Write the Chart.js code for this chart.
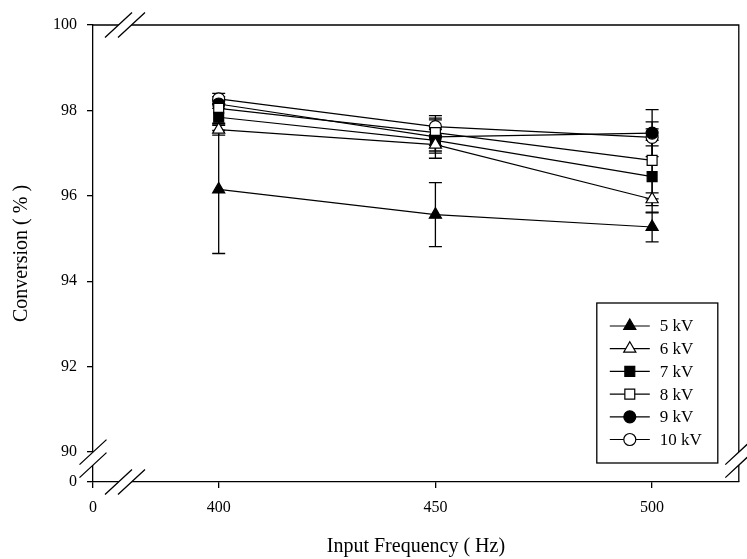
<!DOCTYPE html>
<html>
<head>
<meta charset="utf-8">
<script src="https://cdn.jsdelivr.net/npm/chart.js@4.4.1/dist/chart.umd.min.js"></script>
<style>
  html, body { margin: 0; padding: 0; background: #fff; }
</style>
</head>
<body>
<canvas id="myChart" width="747" height="559"></canvas>
<script>
// data
const frequencies = [400, 450, 500];
const voltages = ['5 kV', '6 kV', '7 kV', '8 kV', '9 kV', '10 kV'];

const conv5kV  = [96.15, 95.56, 95.27];
const conv6kV  = [97.55, 97.20, 95.92];
const conv7kV  = [97.84, 97.30, 96.45];
const conv8kV  = [98.05, 97.48, 96.83];
const conv9kV  = [98.15, 97.38, 97.47];
const conv10kV = [98.27, 97.62, 97.37];

const err5kV  = [1.50, 0.75, 0.35];
const err6kV  = [0.13, 0.20, 0.15];
const err7kV  = [0.31, 0.25, 0.85];
const err8kV  = [0.35, 0.30, 0.90];
const err9kV  = [0.10, 0.50, 0.55];
const err10kV = [0.05, 0.20, 0.20];

const yTicks = [90, 92, 94, 96, 98, 100];
const xTicks = [400, 450, 500];

// broken axes: the lowest value of each scale is labelled "0"
const yMin = 89.3, yMax = 100;
const xMin = 371, xMax = 520;

const serif = "'Liberation Serif', 'Times New Roman', serif";

function series(label, values, errors, style, filled, radius) {
  return {
    label: label,
    data: frequencies.map((f, i) => ({ x: f, y: values[i] })),
    errors: errors,
    borderColor: '#000',
    borderWidth: 1.2,
    pointStyle: style,
    pointRadius: radius,
    pointHoverRadius: radius,
    pointBorderWidth: 1.2,
    pointBorderColor: '#000',
    pointBackgroundColor: filled ? '#000' : '#fff'
  };
}

const errorBars = {
  id: 'errorBars',
  beforeDatasetsDraw(chart) {
    const { ctx } = chart;
    const xs = chart.scales.x, ys = chart.scales.y;
    ctx.save();
    ctx.strokeStyle = '#000';
    ctx.lineWidth = 1.3;
    chart.data.datasets.forEach(ds => {
      ds.data.forEach((p, i) => {
        const e = ds.errors[i];
        const px = xs.getPixelForValue(p.x);
        const top = ys.getPixelForValue(p.y + e);
        const bot = ys.getPixelForValue(p.y - e);
        ctx.beginPath();
        ctx.moveTo(px, top); ctx.lineTo(px, bot);
        ctx.moveTo(px - 6.5, top); ctx.lineTo(px + 6.5, top);
        ctx.moveTo(px - 6.5, bot); ctx.lineTo(px + 6.5, bot);
        ctx.stroke();
      });
    });
    ctx.restore();
  }
};

// draws a "//" break across an axis, blanking the axis between the two strokes
function breakMark(ctx, cx, cy, along) {
  const hx = 13.5, hy = 12.5, gap = 6.5;
  const ox = along === 'h' ? gap : 0;
  const oy = along === 'v' ? gap : 0;
  const a = [cx - ox - hx, cy - oy + hy], b = [cx - ox + hx, cy - oy - hy];
  const c = [cx + ox + hx, cy + oy - hy], d = [cx + ox - hx, cy + oy + hy];
  ctx.fillStyle = '#fff';
  ctx.beginPath();
  ctx.moveTo(a[0], a[1]); ctx.lineTo(b[0], b[1]); ctx.lineTo(c[0], c[1]); ctx.lineTo(d[0], d[1]);
  ctx.closePath();
  ctx.fill();
  ctx.beginPath();
  ctx.moveTo(a[0], a[1]); ctx.lineTo(b[0], b[1]);
  ctx.moveTo(d[0], d[1]); ctx.lineTo(c[0], c[1]);
  ctx.stroke();
}

const frameAndBreaks = {
  id: 'frameAndBreaks',
  afterDraw(chart) {
    const { ctx, chartArea } = chart;
    const ys = chart.scales.y, xs = chart.scales.x;
    ctx.save();
    ctx.strokeStyle = '#000';
    ctx.lineWidth = 1.3;
    ctx.beginPath();
    ctx.moveTo(chartArea.left, chartArea.top);
    ctx.lineTo(chartArea.right, chartArea.top);
    ctx.lineTo(chartArea.right, chartArea.bottom);
    ctx.stroke();
    const yb = ys.getPixelForValue(90) + 6.5;
    const xb = xs.getPixelForValue(xMin) + 32;
    breakMark(ctx, chartArea.left, yb, 'v');
    breakMark(ctx, chartArea.right, yb, 'v');
    breakMark(ctx, xb, chartArea.bottom, 'h');
    breakMark(ctx, xb, chartArea.top, 'h');
    ctx.restore();
  }
};

const boxLegend = {
  id: 'boxLegend',
  afterDraw(chart) {
    const { ctx, chartArea } = chart;
    const w = 121, h = 160;
    const left = chartArea.right - 21 - w;
    const top = chartArea.bottom - 19 - h;
    ctx.save();
    ctx.strokeStyle = '#000';
    ctx.lineWidth = 1.3;
    ctx.fillStyle = '#fff';
    ctx.fillRect(left, top, w, h);
    ctx.strokeRect(left, top, w, h);
    ctx.font = '17px ' + serif;
    ctx.textBaseline = 'middle';
    chart.data.datasets.forEach((ds, i) => {
      const cy = top + 23 + i * 22.7;
      ctx.lineWidth = 1.2;
      ctx.strokeStyle = '#000';
      ctx.beginPath();
      ctx.moveTo(left + 13, cy); ctx.lineTo(left + 53, cy);
      ctx.stroke();
      ctx.fillStyle = ds.pointBackgroundColor;
      Chart.helpers.drawPoint(ctx, {
        pointStyle: ds.pointStyle, radius: ds.pointRadius, rotation: 0, borderWidth: 1.2
      }, left + 33, cy);
      ctx.fillStyle = '#000';
      ctx.fillText(ds.label, left + 63, cy + 1);
    });
    ctx.restore();
  }
};

Chart.defaults.color = '#000';
Chart.defaults.font.family = serif;

new Chart(document.getElementById('myChart').getContext('2d'), {
  type: 'line',
  data: {
    datasets: [
      series(voltages[0], conv5kV, err5kV, 'triangle', true, 7),
      series(voltages[1], conv6kV, err6kV, 'triangle', false, 7),
      series(voltages[2], conv7kV, err7kV, 'rect', true, 7),
      series(voltages[3], conv8kV, err8kV, 'rect', false, 7),
      series(voltages[4], conv9kV, err9kV, 'circle', true, 6),
      series(voltages[5], conv10kV, err10kV, 'circle', false, 6)
    ]
  },
  options: {
    responsive: false,
    animation: false,
    layout: { padding: { top: 25, right: -3, left: 0, bottom: 0 } },
    plugins: {
      legend: { display: false },
      tooltip: { enabled: false }
    },
    scales: {
      x: {
        type: 'linear',
        min: xMin,
        max: xMax,
        afterBuildTicks: s => { s.ticks = [xMin, ...xTicks].map(v => ({ value: v })); },
        afterFit: s => { s.height = 77; },
        ticks: {
          callback: v => v === xMin ? '0' : String(v),
          font: { size: 16, family: serif },
          padding: 10,
          maxRotation: 0,
          autoSkip: false
        },
        grid: { drawOnChartArea: false, drawTicks: true, tickLength: 6, color: '#000', lineWidth: 1.3 },
        border: { display: true, color: '#000', width: 1.3 },
        title: {
          display: true,
          text: 'Input Frequency ( Hz)',
          font: { size: 20, family: serif },
          padding: { top: 0, bottom: 0 }
        }
      },
      y: {
        type: 'linear',
        min: yMin,
        max: yMax,
        afterBuildTicks: s => { s.ticks = [yMin, ...yTicks].map(v => ({ value: v })); },
        afterFit: s => { s.width = 93; },
        ticks: {
          callback: v => v === yMin ? '0' : String(v),
          font: { size: 16, family: serif },
          padding: 10,
          autoSkip: false
        },
        grid: { drawOnChartArea: false, drawTicks: true, tickLength: 6, color: '#000', lineWidth: 1.3 },
        border: { display: true, color: '#000', width: 1.3 },
        title: {
          display: true,
          text: 'Conversion ( % )',
          font: { size: 20, family: serif },
          padding: { top: 10, bottom: 0 }
        }
      }
    }
  },
  plugins: [errorBars, frameAndBreaks, boxLegend]
});
</script>
</body>
</html>
